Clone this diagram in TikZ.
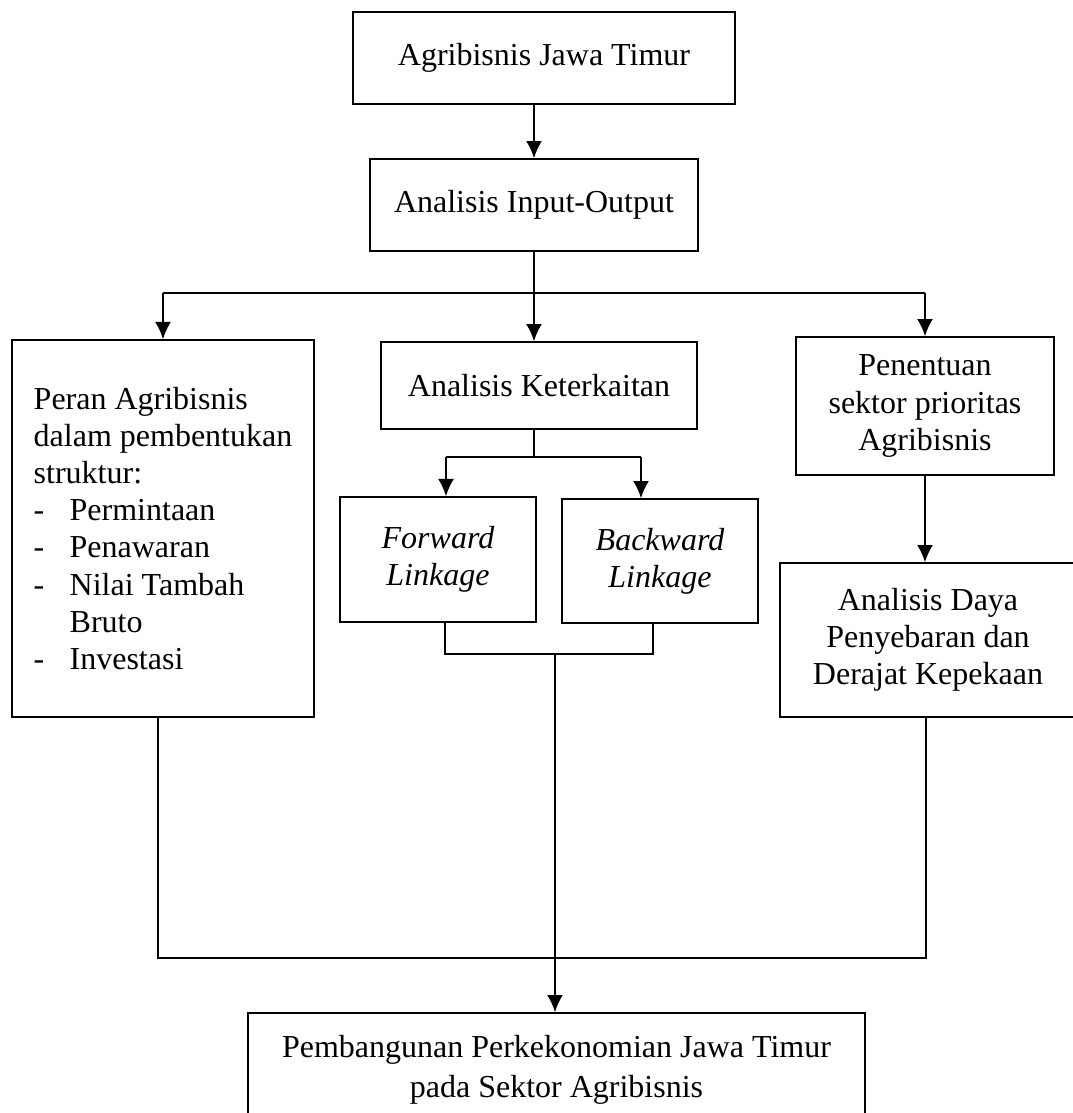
\documentclass[tikz,border=0pt]{standalone}
\usepackage{fontspec}
\setmainfont{Liberation Serif}
\usetikzlibrary{arrows.meta}
\newcommand{\butir}{\makebox[13.5pt][l]{-}}
\newcommand{\sambung}{\makebox[13.5pt]{}}

\begin{document}
\begin{tikzpicture}[x=0.375pt, y=-0.375pt,
    kotak/.style={draw, line width=0.5pt, inner sep=2pt, align=center,
        font=\fontsize{12}{13.9}\selectfont},
    garis/.style={line width=0.8pt},
    panah/.style={line width=0.8pt, -{Latex[length=6.5pt,width=6pt]}}]

    \useasboundingbox (0,0) rectangle (1073,1113);

    % 1. Kotak-kotak utama
    \node[kotak, minimum width=143.25pt, minimum height=34.5pt] (agri) at (544,58) {Agribisnis Jawa Timur};
    \node[kotak, minimum width=123pt, minimum height=34.5pt] (io) at (534,205) {Analisis Input-Output};

    \node[kotak, align=left, minimum width=113.25pt, minimum height=141.4pt] (peran) at (163,528.5)
        {Peran Agribisnis\\dalam pembentukan\\struktur:\\\butir Permintaan\\\butir Penawaran\\\butir Nilai Tambah\\\sambung Bruto\\\butir Investasi};
    \node[kotak, minimum width=118.5pt, minimum height=32.6pt] (kait) at (539,385.5) {Analisis Keterkaitan};
    \node[kotak, minimum width=96.75pt, minimum height=51.75pt] (prio) at (925,406) {Penentuan\\sektor prioritas\\Agribisnis};

    \node[kotak, font=\fontsize{12}{13.9}\selectfont\itshape, minimum width=73.5pt, minimum height=46.9pt] (fwd) at (438,559.5) {Forward\\Linkage};
    \node[kotak, font=\fontsize{12}{13.9}\selectfont\itshape, minimum width=73.5pt, minimum height=46.5pt] (bwd) at (660,561) {Backward\\Linkage};
    \node[kotak, minimum width=111pt, minimum height=57.75pt] (daya) at (928,640) {Analisis Daya\\Penyebaran dan\\Derajat Kepekaan};

    \node[kotak, font=\fontsize{12}{15}\selectfont, minimum width=231.4pt, minimum height=42.75pt] (hasil) at (556.5,1070) {Pembangunan Perkekonomian Jawa Timur\\pada Sektor Agribisnis};

    % 2. Titik cabang
    \coordinate (cab) at (534,293);
    \coordinate (kf) at (446,457);
    \coordinate (kb) at (641,457);
    \coordinate (mf) at (445,654);
    \coordinate (mb) at (653,654);
    \coordinate (mt) at (555,654);
    \coordinate (jl) at (158,958);
    \coordinate (jr) at (926,958);

    % 3. Panah dan garis
    \draw[panah] (agri.south -| io.north) -- (io.north);
    \draw[garis] (io.south) -- (cab);
    \draw[garis] (peran.north |- cab) -- (prio.north |- cab);
    \draw[panah] (peran.north |- cab) -- (peran.north);
    \draw[panah] (cab) -- (cab |- kait.north);
    \draw[panah] (prio.north |- cab) -- (prio.north);

    \draw[garis] (kait.south -| cab) -- (cab |- kf);
    \draw[garis] (kf) -- (kb);
    \draw[panah] (kf) -- (kf |- fwd.north);
    \draw[panah] (kb) -- (kb |- bwd.north);

    \draw[garis] (mf |- fwd.south) -- (mf) -- (mb) -- (mb |- bwd.south);
    \draw[panah] (prio.south) -- (prio.south |- daya.north);

    \draw[garis] (jl |- peran.south) -- (jl) -- (jr) -- (jr |- daya.south);
    \draw[panah] (mt) -- (mt |- hasil.north);

\end{tikzpicture}
\end{document}
